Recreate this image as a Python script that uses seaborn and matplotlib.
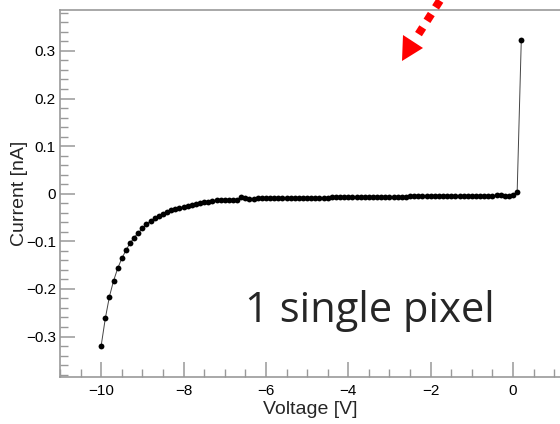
import numpy as np
import pandas as pd
import matplotlib
matplotlib.use("Agg")
import matplotlib.pyplot as plt
from matplotlib.ticker import MultipleLocator, FuncFormatter
from matplotlib.lines import Line2D
from matplotlib.patches import Polygon
import seaborn as sns

voltage = [-10.0, -9.9, -9.8, -9.7, -9.6, -9.5, -9.4, -9.3, -9.2, -9.1,
           -9.0, -8.9, -8.8, -8.7, -8.6, -8.5, -8.4, -8.3, -8.2, -8.1,
           -8.0, -7.9, -7.8, -7.7, -7.6, -7.5, -7.4, -7.3, -7.2, -7.1,
           -7.0, -6.9, -6.8, -6.7, -6.6, -6.5, -6.4, -6.3, -6.2, -6.1,
           -6.0, -5.9, -5.8, -5.7, -5.6, -5.5, -5.4, -5.3, -5.2, -5.1,
           -5.0, -4.9, -4.8, -4.7, -4.6, -4.5, -4.4, -4.3, -4.2, -4.1,
           -4.0, -3.9, -3.8, -3.7, -3.6, -3.5, -3.4, -3.3, -3.2, -3.1,
           -3.0, -2.9, -2.8, -2.7, -2.6, -2.5, -2.4, -2.3, -2.2, -2.1,
           -2.0, -1.9, -1.8, -1.7, -1.6, -1.5, -1.4, -1.3, -1.2, -1.1,
           -1.0, -0.9, -0.8, -0.7, -0.6, -0.5, -0.4, -0.3, -0.2, -0.1,
           0.0, 0.1, 0.2]
current = [-0.319, -0.262, -0.216, -0.183, -0.157, -0.136, -0.119, -0.104, -0.092, -0.082,
           -0.073, -0.064, -0.057, -0.052, -0.047, -0.043, -0.038, -0.035, -0.032, -0.030,
           -0.027, -0.025, -0.023, -0.021, -0.020, -0.018, -0.017, -0.015, -0.014, -0.013,
           -0.013, -0.013, -0.013, -0.013, -0.006, -0.010, -0.011, -0.011, -0.010, -0.010,
           -0.010, -0.010, -0.010, -0.009, -0.009, -0.009, -0.009, -0.009, -0.008, -0.008,
           -0.008, -0.008, -0.008, -0.008, -0.008, -0.008, -0.007, -0.007, -0.007, -0.007,
           -0.007, -0.007, -0.007, -0.007, -0.006, -0.006, -0.006, -0.006, -0.006, -0.006,
           -0.006, -0.006, -0.006, -0.006, -0.006, -0.005, -0.005, -0.005, -0.005, -0.005,
           -0.005, -0.005, -0.005, -0.005, -0.005, -0.005, -0.004, -0.004, -0.004, -0.004,
           -0.004, -0.004, -0.004, -0.004, -0.004, -0.004, -0.003, -0.003, -0.004, -0.004,
           -0.003, 0.004, 0.323]

df = pd.DataFrame({"Voltage": voltage, "Current": current})

sns.set_style("white")
plt.rcParams['font.family'] = ['Liberation Sans', 'DejaVu Sans']

W, H = 560, 424
fig = plt.figure(figsize=(W / 100, H / 100), dpi=100)
ax = fig.add_axes([60 / W, 47 / H, 500 / W, 367 / H])

sns.lineplot(data=df, x="Voltage", y="Current", ax=ax, color="black",
             linewidth=0.7, marker="o", markersize=4.2, markeredgewidth=0)
ax.lines[0].set_color("#444444")
ax.lines[0].set_markerfacecolor("black")

ax.set_xlim(-11, 1.14)
ax.set_ylim(-0.385, 0.386)

ax.xaxis.set_major_locator(MultipleLocator(2))
ax.xaxis.set_minor_locator(MultipleLocator(0.5))
ax.yaxis.set_major_locator(MultipleLocator(0.1))
ax.yaxis.set_minor_locator(MultipleLocator(0.02))
fmt = FuncFormatter(lambda v, p: ("%g" % round(v, 3)).replace("-", "\u2212"))
ax.xaxis.set_major_formatter(fmt)
ax.yaxis.set_major_formatter(fmt)

for s in ["left", "bottom", "top"]:
    ax.spines[s].set_color("#999999")
    ax.spines[s].set_linewidth(1.2)
ax.spines["right"].set_visible(False)

ax.tick_params(which="major", direction="in", length=11, width=1.1, color="#999999",
               labelsize=11, labelcolor="black", pad=3)
ax.tick_params(which="minor", direction="in", length=6, width=1.0, color="#999999")
ax.tick_params(axis="x", which="both", top=False, bottom=True, pad=5)
ax.tick_params(axis="y", which="both", left=True, right=False)

ax.set_xlabel("Voltage [V]", fontsize=14)
ax.xaxis.set_label_coords(0.5, -(401 - 377) / 367)
ax.xaxis.label.set_va("top")
ax.set_ylabel("Current [nA]", fontsize=14)
ax.yaxis.set_label_coords(-(60 - 28) / 500, 0.5)

def px(x, y):
    # pixel position (from top-left) to figure fraction
    return x / W, 1 - y / H

ax.text(*px(245, 322), "1 single pixel", transform=fig.transFigure, fontsize=30,
        family=["Open Sans", "DejaVu Sans"], va="baseline", ha="left")

# red dashed arrow pointing down-left
x0, y0 = px(439.9, 0.6)
x1, y1 = px(418.5, 34.1)
fig.add_artist(Line2D([x0, x1], [y0, y1], transform=fig.transFigure, color="red",
                      linewidth=5.8, dashes=(1.0, 0.98), solid_capstyle="butt",
                      dash_capstyle="butt"))
fig.add_artist(Polygon([px(403, 35), px(423, 48), px(402, 61)], closed=True,
                       transform=fig.transFigure, color="red", linewidth=0))

fig.savefig("out.png", dpi=100)
